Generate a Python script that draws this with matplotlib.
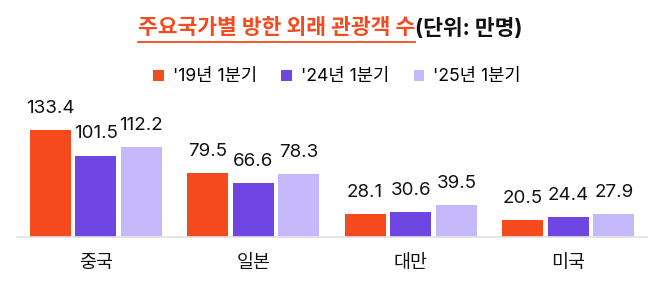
import matplotlib
matplotlib.use("Agg")
import matplotlib.pyplot as plt
from matplotlib.patches import Patch
from matplotlib.lines import Line2D
import numpy as np

categories = ["중국", "일본", "대만", "미국"]
series_names = ["'19년 1분기", "'24년 1분기", "'25년 1분기"]
v2019 = [133.4, 79.5, 28.1, 20.5]
v2024 = [101.5, 66.6, 30.6, 24.4]
v2025 = [112.2, 78.3, 39.5, 27.9]
colors = ["#F54A1E", "#7046E2", "#C5B9FB"]
title_main = "주요국가별 방한 외래 관광객 수"
title_unit = "(단위: 만명)"

FAM = ["Inter", "Noto Sans CJK KR", "DejaVu Sans"]
plt.rcParams["font.family"] = FAM

W, H = 670, 283
fig = plt.figure(figsize=(W / 100, H / 100), dpi=100)
ax = fig.add_axes([17 / W, (H - 236.7) / H, 630 / W, 136 / H])

x = np.arange(len(categories))
bw = 0.26
step = 0.29
for i, (vals, c) in enumerate(zip([v2019, v2024, v2025], colors)):
    pos = x + (i - 1) * step
    bars = ax.bar(pos, vals, width=bw, color=c, label=series_names[i])
    for b, v in zip(bars, vals):
        ax.annotate(f"{v}", (b.get_x() + b.get_width() / 2, v),
                    xytext=(0, 13), textcoords="offset pixels",
                    ha="center", va="bottom", fontsize=13.5, color="#111111")

ax.set_xlim(-0.5, 3.5)
ax.set_ylim(0, 170)
ax.set_xticks(x)
ax.set_xticklabels(categories, fontsize=13.3, color="#111111")
ax.tick_params(axis="x", length=0, pad=13)
ax.set_yticks([])
for s in ["top", "right", "left"]:
    ax.spines[s].set_visible(False)
ax.spines["bottom"].set_color("#E2E2E2")
ax.spines["bottom"].set_linewidth(1.2)

handles = [Patch(facecolor=c, edgecolor="none") for c in colors]
fig.legend(handles, series_names, loc="center", bbox_to_anchor=(337 / W, 1 - 77 / H),
           ncol=3, frameon=False, fontsize=12.7, handlelength=0.6, handleheight=0.6,
           handletextpad=0.5, columnspacing=1.4)

# Title
t1 = fig.text(138 / W, 1 - 28 / H, title_main, ha="left", va="center",
              fontsize=15.5, fontweight="bold", color="#F54A1E")
fig.canvas.draw()
r = fig.canvas.get_renderer()
bb = t1.get_window_extent(renderer=r)
fig.text(bb.x1 / W, 1 - 28 / H, title_unit, ha="left", va="center",
         fontsize=15.5, fontweight="bold", color="#111111")
fig.add_artist(Line2D([bb.x0 / W, bb.x1 / W], [1 - 42 / H, 1 - 42 / H],
                      color="#F54A1E", linewidth=1.3, transform=fig.transFigure))

fig.savefig("out.png", dpi=100)
